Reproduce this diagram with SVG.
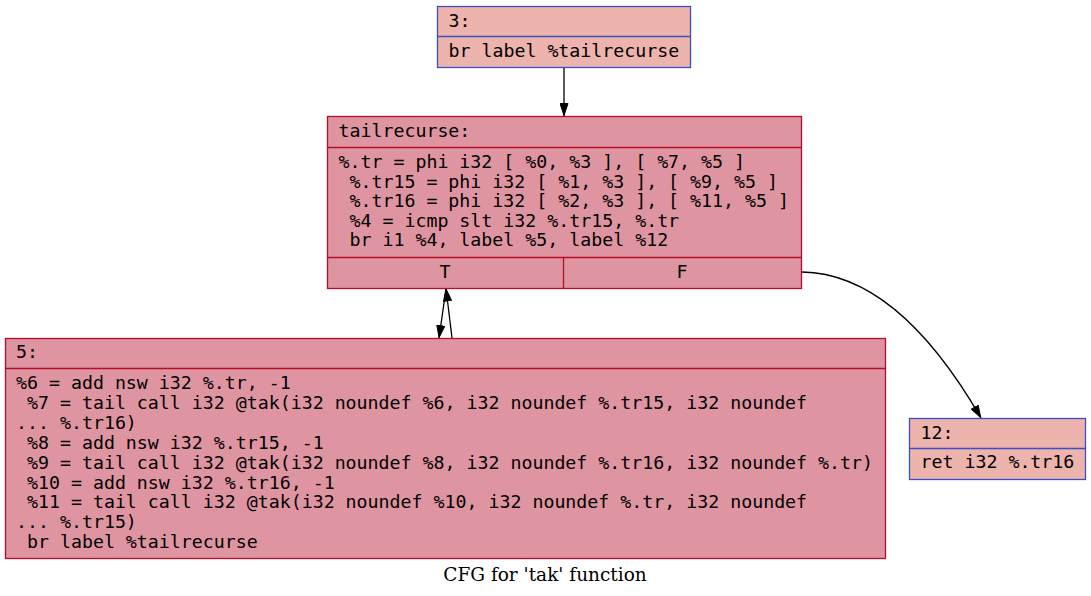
<svg xmlns="http://www.w3.org/2000/svg" width="1091" height="596" viewBox="0 0 1091 596">
<style>
.cold{fill:#d65244;fill-opacity:0.44;stroke:#3d50c3;stroke-width:1.3}
.hot{fill:#b70d28;fill-opacity:0.44;stroke:#b70d28;stroke-width:1.3}
.div-c{stroke:#3d50c3;stroke-width:1.3}
.div-h{stroke:#b70d28;stroke-width:1.3}
.t{font-family:"DejaVu Sans Mono",monospace;font-size:18.25px;fill:#000;white-space:pre}
.mid{text-anchor:middle}
.edge{fill:none;stroke:#000;stroke-width:1.3}
.cap{font-family:"DejaVu Serif","Liberation Serif",serif;font-size:18.5px;fill:#000;text-anchor:middle}
</style>
<defs>
<marker id="arr" viewBox="0 0 13 9" refX="13" refY="4.5" markerWidth="13" markerHeight="9" markerUnits="userSpaceOnUse" orient="auto">
<path d="M0.5,0.5 L12.5,4.5 L0.5,8.5 Z" fill="#000" stroke="#000"/>
</marker>
</defs>
<rect width="1091" height="596" fill="#fff"/>
<g id="edges">
<path class="edge" d="M564,67 L564,116" marker-end="url(#arr)"/>
<path class="edge" d="M446,289 L439,338" marker-end="url(#arr)"/>
<path class="edge" d="M452,338 L446,288.5" marker-end="url(#arr)"/>
<path class="edge" d="M802,272 C870,273 930,330 981,418" marker-end="url(#arr)"/>
</g>
<g id="node3">
<rect class="cold" x="437.5" y="6.5" width="253" height="61"/>
<line class="div-c" x1="437.5" y1="36.5" x2="690.5" y2="36.5"/>
<text class="t" x="448.5" y="27">3:</text>
<text class="t" x="448.5" y="56.5">br label %tailrecurse</text>
</g>
<g id="tailrecurse">
<rect class="hot" x="327.5" y="116.5" width="474" height="172"/>
<line class="div-h" x1="327.5" y1="147.5" x2="801.5" y2="147.5"/>
<line class="div-h" x1="327.5" y1="257.5" x2="801.5" y2="257.5"/>
<line class="div-h" x1="563.5" y1="257.5" x2="563.5" y2="288.5"/>
<text class="t" x="338.5" y="137">tailrecurse:</text>
<text class="t" x="338.5" y="168">%.tr = phi i32 [ %0, %3 ], [ %7, %5 ]</text>
<text class="t" x="338.5" y="187.6"> %.tr15 = phi i32 [ %1, %3 ], [ %9, %5 ]</text>
<text class="t" x="338.5" y="207.2"> %.tr16 = phi i32 [ %2, %3 ], [ %11, %5 ]</text>
<text class="t" x="338.5" y="226.8"> %4 = icmp slt i32 %.tr15, %.tr</text>
<text class="t" x="338.5" y="246.4"> br i1 %4, label %5, label %12</text>
<text class="t mid" x="445" y="278">T</text>
<text class="t mid" x="682" y="278">F</text>
</g>
<g id="node5">
<rect class="hot" x="5.5" y="338.5" width="880" height="220"/>
<line class="div-h" x1="5.5" y1="368.5" x2="885.5" y2="368.5"/>
<text class="t" x="16" y="358">5:</text>
<text class="t" x="16" y="389">%6 = add nsw i32 %.tr, -1</text>
<text class="t" x="16" y="408.9"> %7 = tail call i32 @tak(i32 noundef %6, i32 noundef %.tr15, i32 noundef</text>
<text class="t" x="16" y="428.8">... %.tr16)</text>
<text class="t" x="16" y="448.7"> %8 = add nsw i32 %.tr15, -1</text>
<text class="t" x="16" y="468.6"> %9 = tail call i32 @tak(i32 noundef %8, i32 noundef %.tr16, i32 noundef %.tr)</text>
<text class="t" x="16" y="488.5"> %10 = add nsw i32 %.tr16, -1</text>
<text class="t" x="16" y="508.4"> %11 = tail call i32 @tak(i32 noundef %10, i32 noundef %.tr, i32 noundef</text>
<text class="t" x="16" y="528.3">... %.tr15)</text>
<text class="t" x="16" y="548.2"> br label %tailrecurse</text>
</g>
<g id="node12">
<rect class="cold" x="909.5" y="418.5" width="176" height="61"/>
<line class="div-c" x1="909.5" y1="448.5" x2="1085.5" y2="448.5"/>
<text class="t" x="920.5" y="438.5">12:</text>
<text class="t" x="920.5" y="468">ret i32 %.tr16</text>
</g>
<text class="cap" x="545" y="581">CFG for 'tak' function</text>
</svg>
